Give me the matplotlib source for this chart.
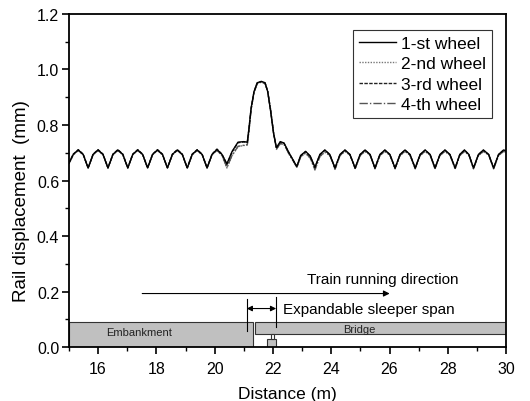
import matplotlib
matplotlib.use('Agg')
import matplotlib.pyplot as plt
from matplotlib.patches import Rectangle

plt.rcParams['font.family'] = ['Liberation Sans', 'DejaVu Sans']

# distance along track (m)
distance = [15.00, 15.15, 15.32, 15.49,
            15.66, 15.83, 16.00, 16.17,
            16.34, 16.51, 16.68, 16.85,
            17.02, 17.19, 17.36, 17.53,
            17.70, 17.87, 18.04, 18.21,
            18.38, 18.55, 18.72, 18.89,
            19.06, 19.23, 19.40, 19.57,
            19.74, 19.91, 20.08, 20.25,
            20.42, 20.60, 20.80, 21.00,
            21.12, 21.18, 21.25, 21.35, 21.46, 21.60, 21.73, 21.82, 21.92, 22.02, 22.12,
            22.25, 22.38, 22.55,
            22.82, 22.95, 23.12, 23.28,
            23.44, 23.61, 23.78, 23.95,
            24.13, 24.30, 24.47, 24.64,
            24.82, 24.99, 25.16, 25.33,
            25.50, 25.67, 25.84, 26.01,
            26.19, 26.36, 26.53, 26.70,
            26.88, 27.05, 27.22, 27.39,
            27.56, 27.73, 27.90, 28.07,
            28.25, 28.41, 28.57, 28.72,
            28.88, 29.05, 29.22, 29.40,
            29.57, 29.74, 29.91, 30.00]

wheel1 = [0.662, 0.694, 0.710, 0.694,
          0.645, 0.694, 0.710, 0.694,
          0.645, 0.694, 0.710, 0.694,
          0.645, 0.694, 0.710, 0.694,
          0.645, 0.694, 0.710, 0.694,
          0.645, 0.694, 0.710, 0.694,
          0.645, 0.694, 0.710, 0.694,
          0.645, 0.694, 0.712, 0.694,
          0.660, 0.705, 0.738, 0.740,
          0.738, 0.790, 0.860, 0.920, 0.952, 0.957, 0.952, 0.920, 0.850, 0.770, 0.718,
          0.740, 0.735, 0.700,
          0.650, 0.690, 0.705, 0.688,
          0.648, 0.694, 0.710, 0.694,
          0.645, 0.694, 0.710, 0.694,
          0.645, 0.694, 0.710, 0.694,
          0.645, 0.694, 0.710, 0.694,
          0.645, 0.694, 0.710, 0.694,
          0.645, 0.694, 0.710, 0.694,
          0.645, 0.694, 0.710, 0.694,
          0.645, 0.694, 0.710, 0.694,
          0.645, 0.694, 0.710, 0.694,
          0.645, 0.694, 0.710, 0.707]

wheel2 = [0.660, 0.692, 0.708, 0.692,
          0.645, 0.692, 0.708, 0.692,
          0.645, 0.692, 0.708, 0.692,
          0.645, 0.692, 0.708, 0.692,
          0.645, 0.692, 0.708, 0.692,
          0.645, 0.692, 0.708, 0.692,
          0.645, 0.692, 0.708, 0.692,
          0.645, 0.692, 0.708, 0.690,
          0.645, 0.690, 0.722, 0.726,
          0.728, 0.780, 0.855, 0.918, 0.950, 0.955, 0.950, 0.922, 0.855, 0.775, 0.712,
          0.732, 0.730, 0.695,
          0.648, 0.685, 0.698, 0.680,
          0.638, 0.686, 0.702, 0.690,
          0.640, 0.690, 0.704, 0.692,
          0.642, 0.690, 0.704, 0.692,
          0.642, 0.690, 0.704, 0.692,
          0.642, 0.690, 0.704, 0.692,
          0.642, 0.690, 0.704, 0.692,
          0.642, 0.690, 0.704, 0.692,
          0.642, 0.690, 0.704, 0.692,
          0.642, 0.690, 0.704, 0.692,
          0.642, 0.690, 0.704, 0.702]

wheel3 = [0.663, 0.695, 0.711, 0.695,
          0.646, 0.695, 0.711, 0.695,
          0.646, 0.695, 0.711, 0.695,
          0.646, 0.695, 0.711, 0.695,
          0.646, 0.695, 0.711, 0.695,
          0.646, 0.695, 0.711, 0.695,
          0.646, 0.695, 0.711, 0.695,
          0.646, 0.695, 0.713, 0.695,
          0.658, 0.703, 0.736, 0.739,
          0.737, 0.788, 0.858, 0.919, 0.951, 0.956, 0.951, 0.921, 0.852, 0.772, 0.716,
          0.738, 0.734, 0.699,
          0.650, 0.689, 0.704, 0.687,
          0.646, 0.693, 0.709, 0.693,
          0.645, 0.693, 0.709, 0.693,
          0.645, 0.693, 0.709, 0.693,
          0.645, 0.693, 0.709, 0.693,
          0.645, 0.693, 0.709, 0.693,
          0.645, 0.693, 0.709, 0.693,
          0.645, 0.693, 0.709, 0.693,
          0.645, 0.693, 0.709, 0.693,
          0.645, 0.693, 0.709, 0.693,
          0.645, 0.693, 0.709, 0.706]

wheel4 = [0.661, 0.693, 0.709, 0.693,
          0.645, 0.693, 0.709, 0.693,
          0.645, 0.693, 0.709, 0.693,
          0.645, 0.693, 0.709, 0.693,
          0.645, 0.693, 0.709, 0.693,
          0.645, 0.693, 0.709, 0.693,
          0.645, 0.693, 0.709, 0.693,
          0.645, 0.693, 0.709, 0.691,
          0.647, 0.691, 0.723, 0.727,
          0.729, 0.782, 0.856, 0.917, 0.949, 0.954, 0.949, 0.921, 0.854, 0.774, 0.713,
          0.733, 0.731, 0.696,
          0.648, 0.686, 0.699, 0.681,
          0.639, 0.687, 0.703, 0.691,
          0.641, 0.691, 0.705, 0.693,
          0.643, 0.691, 0.705, 0.693,
          0.643, 0.691, 0.705, 0.693,
          0.643, 0.691, 0.705, 0.693,
          0.643, 0.691, 0.705, 0.693,
          0.643, 0.691, 0.705, 0.693,
          0.643, 0.691, 0.705, 0.693,
          0.643, 0.691, 0.705, 0.693,
          0.643, 0.691, 0.705, 0.703]

labels = ['1-st wheel', '2-nd wheel', '3-rd wheel', '4-th wheel']

fig = plt.figure(figsize=(5.3, 4.02), dpi=100)
ax = fig.add_axes([0.130, 0.134, 0.825, 0.829])

# wheel curves
ax.plot(distance, wheel2, color='#777777', linestyle=(0, (1, 1)), lw=1.0, label=labels[1])
ax.plot(distance, wheel4, color='#555555', linestyle=(0, (6, 1.5, 1, 1.5)), lw=1.0, label=labels[3])
ax.plot(distance, wheel3, color='#222222', linestyle=(0, (2.5, 1)), lw=1.0, label=labels[2])
ax.plot(distance, wheel1, color='black', linestyle='-', lw=1.0, label=labels[0])

# structure sketch: embankment, bridge, bearing
gray = '#c0c0c0'
ax.add_patch(Rectangle((15.0, 0.0), 6.33, 0.091, facecolor=gray, edgecolor='#333333', lw=0.8, zorder=1))
ax.add_patch(Rectangle((21.39, 0.046), 9.0, 0.045, facecolor=gray, edgecolor='#333333', lw=0.8, zorder=1))
ax.add_patch(Rectangle((21.79, 0.0), 0.33, 0.029, facecolor=gray, edgecolor='#333333', lw=0.8, zorder=1))
ax.add_patch(Rectangle((21.92, 0.029), 0.12, 0.017, facecolor='white', edgecolor='#333333', lw=0.8, zorder=1))
ax.text(17.4, 0.053, 'Embankment', fontsize=8, ha='center', va='center', color='#222222')
ax.text(24.95, 0.066, 'Bridge', fontsize=8, ha='center', va='center', color='#222222')

# train direction arrow
ax.annotate('', xy=(26.1, 0.193), xytext=(17.42, 0.193),
            arrowprops=dict(arrowstyle='-|>', color='black', lw=0.8, mutation_scale=9))
ax.text(25.75, 0.247, 'Train running direction', fontsize=11, ha='center', va='center')

# expandable sleeper span dimension
ax.plot([21.10, 21.10], [0.059, 0.173], color='black', lw=0.8)
ax.plot([22.11, 22.11], [0.071, 0.179], color='black', lw=0.8)
ax.annotate('', xy=(21.10, 0.139), xytext=(22.11, 0.139),
            arrowprops=dict(arrowstyle='<|-|>', color='black', lw=0.8, mutation_scale=8,
                            shrinkA=0, shrinkB=0))
ax.text(22.33, 0.139, 'Expandable sleeper span', fontsize=11, ha='left', va='center')

ax.set_xlim(15, 30)
ax.set_ylim(0, 1.2)
ax.set_xticks([16, 18, 20, 22, 24, 26, 28, 30])
ax.set_xticks(range(15, 31), minor=True)
ax.set_yticks([0.0, 0.2, 0.4, 0.6, 0.8, 1.0, 1.2])
ax.set_yticks([i / 10 for i in range(13)], minor=True)
ax.yaxis.set_major_formatter(matplotlib.ticker.FormatStrFormatter('%.1f'))
ax.tick_params(which='major', direction='out', length=5, width=1.2, labelsize=11.5, pad=2)
ax.tick_params(which='minor', direction='out', length=3, width=1.0)
ax.tick_params(axis='x', which='major', pad=5)
for s in ax.spines.values():
    s.set_linewidth(1.3)

ax.set_xlabel('Distance (m)', fontsize=12.5, labelpad=7)
ax.set_ylabel('Rail displacement  (mm)', fontsize=13.5)
ax.yaxis.set_label_coords(-0.089, 0.44)

h, l = ax.get_legend_handles_labels()
order = [l.index(t) for t in labels]
leg = ax.legend([h[i] for i in order], [l[i] for i in order], loc='upper right',
                bbox_to_anchor=(0.968, 0.952), borderaxespad=0, fontsize=12.5,
                handlelength=2.1, handletextpad=0.3, labelspacing=0.3, borderpad=0.35,
                fancybox=False, framealpha=1, edgecolor='#333333')
leg.get_frame().set_linewidth(0.8)

fig.savefig('out.png', dpi=100)
